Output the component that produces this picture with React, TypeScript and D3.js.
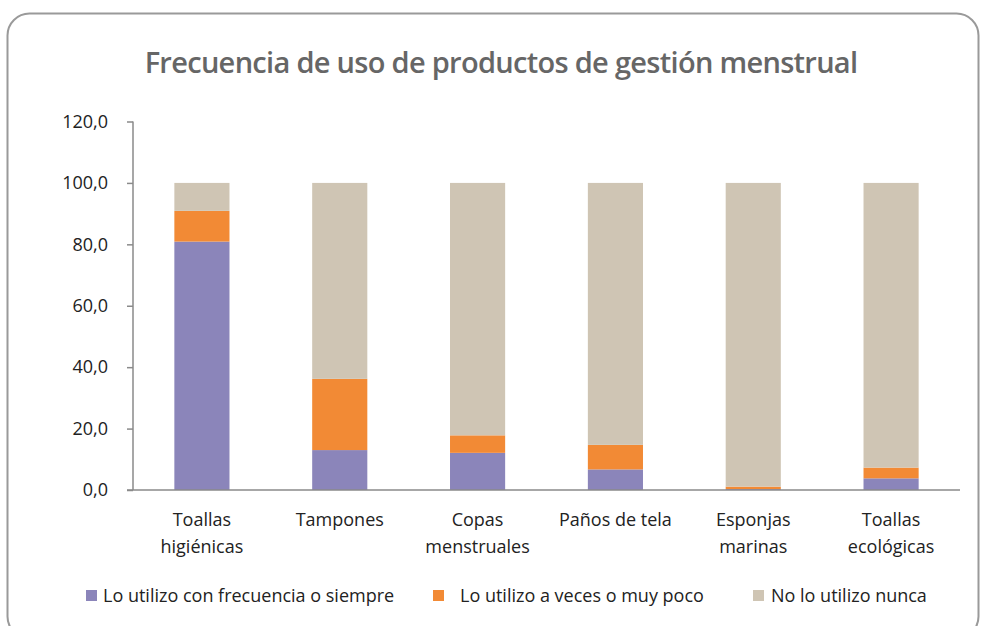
import { useEffect, useRef } from "react";
import * as d3 from "d3";

// categories (two-line labels) and stacked series values, in %
const CATEGORIES = [
  ["Toallas", "higiénicas"],
  ["Tampones"],
  ["Copas", "menstruales"],
  ["Paños de tela"],
  ["Esponjas", "marinas"],
  ["Toallas", "ecológicas"],
];
const FRECUENTE = [80.9, 13.0, 12.1, 6.7, 0.3, 3.8];
const A_VECES = [10.0, 23.2, 5.7, 8.0, 0.8, 3.5];
const NUNCA = [9.1, 63.8, 82.2, 85.3, 98.9, 92.7];
const SERIES = [
  "Lo utilizo con frecuencia o siempre",
  "Lo utilizo a veces o muy poco",
  "No lo utilizo nunca",
];
const COLORS = ["#8b85ba", "#f28a35", "#cfc5b4"];
const Y_TICKS = [0, 20, 40, 60, 80, 100, 120];

const W = 983;
const H = 626;
const FONT = "'Open Sans', 'Noto Sans', sans-serif";

export default function App() {
  const svgRef = useRef<SVGSVGElement | null>(null);

  useEffect(() => {
    document.body.style.margin = "0";
    const svg = d3.select(svgRef.current);
    svg.selectAll("*").remove();

    // rounded frame
    svg.append("rect")
      .attr("x", 7.5).attr("y", 13.5)
      .attr("width", 971).attr("height", 625)
      .attr("rx", 22)
      .attr("fill", "#fff")
      .attr("stroke", "#9a9a9a").attr("stroke-width", 2);

    svg.append("text")
      .attr("x", 501).attr("y", 73)
      .attr("text-anchor", "middle")
      .attr("font-family", FONT)
      .attr("font-weight", 600)
      .attr("font-size", "29px")
      .attr("fill", "#666")
      .attr("letter-spacing", "-0.7px")
      .text("Frecuencia de uso de productos de gestión menstrual");

    const names = CATEGORIES.map((c) => c.join(" "));
    const x = d3.scaleBand().domain(names).range([133, 960]).paddingInner(0.6).paddingOuter(0.3);
    const y = d3.scaleLinear().domain([0, 120]).range([490, 121.5]);

    const rows = names.map((n, i) => ({
      name: n,
      s0: FRECUENTE[i],
      s1: A_VECES[i],
      s2: NUNCA[i],
    }));
    const stack = d3.stack<any>().keys(["s0", "s1", "s2"]);
    const layers = stack(rows);

    const g = svg.append("g");
    layers.forEach((layer, li) => {
      g.selectAll(null)
        .data(layer)
        .enter()
        .append("rect")
        .attr("x", (d: any) => x(d.data.name)!)
        .attr("width", x.bandwidth())
        .attr("y", (d) => y(d[1]))
        .attr("height", (d) => y(d[0]) - y(d[1]))
        .attr("fill", COLORS[li]);
    });

    // y axis
    const yAxis = svg.append("g")
      .attr("transform", "translate(133,0)")
      .call(d3.axisLeft(y).tickValues(Y_TICKS).tickSize(6).tickPadding(19)
        .tickFormat((d) => d3.format(".1f")(d as number).replace(".", ",")));
    yAxis.select(".domain").attr("stroke", "#8a8a8a").attr("stroke-width", 1.5).attr("d", "M0,121.5V490");
    yAxis.selectAll(".tick line").attr("stroke", "#8a8a8a").attr("stroke-width", 1.5);
    yAxis.selectAll(".tick text")
      .attr("font-family", FONT).attr("font-size", "18px").attr("fill", "#222");

    // x axis
    const xAxis = svg.append("g")
      .attr("transform", "translate(0,490)")
      .call(d3.axisBottom(x).tickSize(0).tickFormat(() => ""));
    xAxis.select(".domain").attr("stroke", "#8a8a8a").attr("stroke-width", 1.5).attr("d", "M127,0H960");
    CATEGORIES.forEach((lines, i) => {
      const cx = x(names[i])! + x.bandwidth() / 2;
      const t = svg.append("text")
        .attr("x", cx)
        .attr("y", 526)
        .attr("text-anchor", "middle")
        .attr("font-family", FONT).attr("font-size", "18px").attr("fill", "#222");
      lines.forEach((l, j) => {
        t.append("tspan").attr("x", cx).attr("dy", j === 0 ? 0 : 27).text(l);
      });
    });

    // legend
    const legendX = [86, 433, 753];
    const textX = [103, 460, 771];
    SERIES.forEach((s, i) => {
      svg.append("rect")
        .attr("x", legendX[i]).attr("y", 590)
        .attr("width", 11).attr("height", 11)
        .attr("fill", COLORS[i]);
      svg.append("text")
        .attr("x", textX[i]).attr("y", 602)
        .attr("font-family", FONT).attr("font-size", "18px").attr("fill", "#222")
        .text(s);
    });
  }, []);

  return <svg ref={svgRef} width={W} height={H} style={{ display: "block" }} />;
}
